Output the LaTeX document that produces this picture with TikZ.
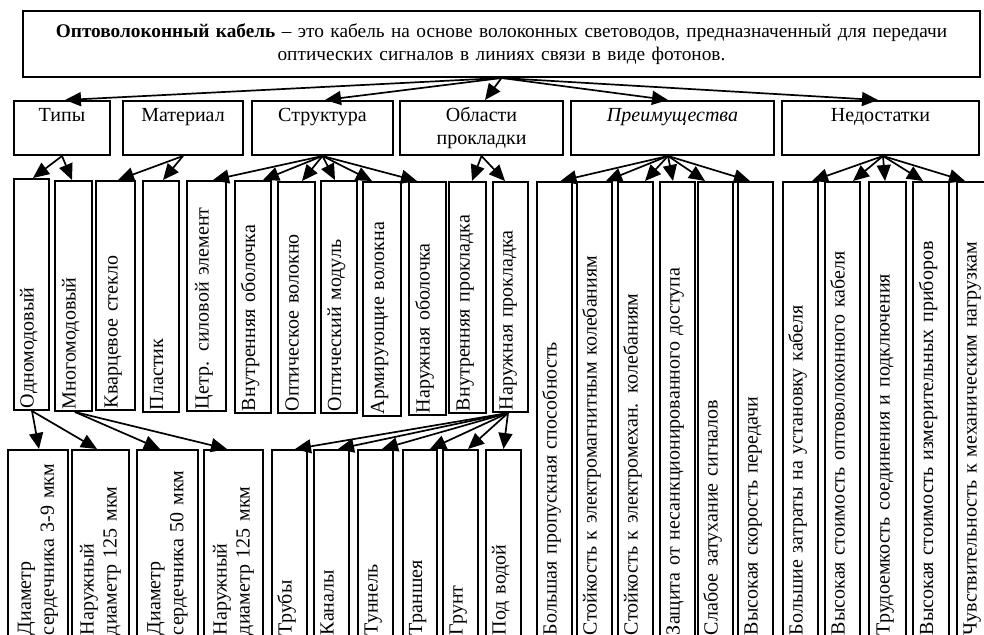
\documentclass[tikz,border=0pt]{standalone}
\usepackage{fontspec}
\setmainfont{Liberation Serif}
\usetikzlibrary{arrows.meta}

\begin{document}
\begin{tikzpicture}[x=1pt,y=-1pt,
  every node/.style={font=\fontsize{20}{23}\selectfont},
  boxline/.style={draw, line width=2pt, inner sep=0pt},
  head/.style={boxline, align=center, minimum height=54pt},
  % vertical boxes: rotated, text runs upwards from the bottom edge
  vert/.style={boxline, rotate=90, inner xsep=2pt, inner ysep=0pt, align=left,
               text height=16pt, text depth=12pt},
  vert2/.style={boxline, rotate=90, inner xsep=2pt, inner ysep=0pt, align=left},
  arr/.style={line width=1.7pt, -{Triangle[length=16pt,width=14pt]}}
]
\useasboundingbox (0,0) rectangle (984,634);

% definition
\node[boxline, minimum width=957pt, minimum height=66pt, text width=950pt, align=center,
      font=\fontsize{19.3}{23}\selectfont]
  (def) at (501.5,44)
  {\textbf{Оптоволоконный кабель} – это кабель на основе волоконных световодов, предназначенный для передачи\\
   оптических сигналов в линиях связи в виде фотонов.};

% categories
\node[head, minimum width=96pt]  (tipy)  at (62,128)    {\strut Типы\\\strut};
\node[head, minimum width=120pt] (mat)   at (183,128)   {\strut Материал\\\strut};
\node[head, minimum width=141pt] (struk) at (322.5,128) {\strut Структура\\\strut};
\node[head, minimum width=163pt] (obl)   at (481.5,128) {\strut Области\\\strut прокладки};
\node[head, minimum width=203pt] (preim) at (672.5,128) {\strut\textit{Преимущества}\\\strut};
\node[head, minimum width=197pt] (nedos) at (880.5,128) {\strut Недостатки\\\strut};

% types, materials, structure, laying
\node[vert, text width=227pt, minimum height=35pt] (odno)   at (31.5,294.5)  {Одномодовый};
\node[vert, text width=226pt, minimum height=37pt] (mnogo)  at (73.5,296)    {Многомодовый};
\node[vert, text width=225pt, minimum height=39pt] (kvarc)  at (115.5,295.5) {Кварцевое стекло};
\node[vert, text width=227pt, minimum height=36pt] (plast)  at (161,296.5)   {Пластик};
\node[vert, text width=226pt, minimum height=39pt] (cetr)   at (206.5,296)   {Цетр. силовой элемент};
\node[vert, text width=228pt, minimum height=36pt] (vnob)   at (253,297)     {Внутренняя оболочка};
\node[vert, text width=227pt, minimum height=37pt] (optvol) at (296.5,297.5) {Оптическое волокно};
\node[vert, text width=228pt, minimum height=36pt] (optmod) at (339,297)     {Оптический модуль};
\node[vert, text width=230pt, minimum height=38pt] (armir)  at (382,299)     {Армирующие волокна};
\node[vert, text width=229pt, minimum height=37pt] (naruob) at (427.5,298.5) {Наружная оболочка};
\node[vert, text width=227pt, minimum height=37pt] (vnpr)   at (467.5,297.5) {Внутренняя прокладка};
\node[vert, text width=226pt, minimum height=35pt] (narpr)  at (510.5,297)   {Наружная прокладка};

% advantages
\node[vert, text width=451pt, minimum height=35pt] (bolsh) at (554.5,409.5) {Большая пропускная способность};
\node[vert, text width=451pt, minimum height=35pt] (stem)  at (594.5,409.5) {Стойкость к электромагнитным колебаниям};
\node[vert, text width=451pt, minimum height=35pt] (stmeh) at (635.5,409.5) {Стойкость к электромехан. колебаниям};
\node[vert, text width=451pt, minimum height=35pt] (zasch) at (677.5,409.5) {Защита от несанкционированного доступа};
\node[vert, text width=451pt, minimum height=35pt] (slab)  at (715.5,409.5) {Слабое затухание сигналов};
\node[vert, text width=451pt, minimum height=35pt] (vysk)  at (755.5,409.5) {Высокая скорость передачи};

% drawbacks
\node[vert, text width=451pt, minimum height=35pt] (zatr)   at (800.5,409.5) {Большие затраты на установку кабеля};
\node[vert, text width=451pt, minimum height=35pt] (vysst)  at (842.5,409.5) {Высокая стоимость оптоволоконного кабеля};
\node[vert, text width=451pt, minimum height=37pt] (trud)   at (887.5,409.5) {Трудоемкость соединения и подключения};
\node[vert, text width=451pt, minimum height=36pt] (vysizm) at (931,409.5)   {Высокая стоимость измерительных приборов};
\node[vert, text width=451pt, minimum height=35pt] (chuv)   at (974.5,409.5) {Чувствительность к механическим нагрузкам};

% fibre parameters
\node[vert2, text width=183pt, minimum height=60pt] (d39) at (38,543.5)    {Диаметр\\сердечника 3-9 мкм};
\node[vert2, text width=183pt, minimum height=57pt] (nd1) at (100.5,543.5) {Наружный\\диаметр 125 мкм};
\node[vert2, text width=183pt, minimum height=61pt] (d50) at (167.5,543.5) {Диаметр\\сердечника 50 мкм};
\node[vert2, text width=183pt, minimum height=59pt] (nd2) at (233.5,543.5) {Наружный\\диаметр 125 мкм};

% outdoor laying
\node[vert, text width=183pt, minimum height=35pt] (trub)  at (289.5,543.5) {Трубы};
\node[vert, text width=183pt, minimum height=35pt] (kan)   at (331.5,543.5) {Каналы};
\node[vert, text width=183pt, minimum height=35pt] (tun)   at (375.5,543.5) {Туннель};
\node[vert, text width=183pt, minimum height=34pt] (tran)  at (420,543.5)   {Траншея};
\node[vert, text width=183pt, minimum height=35pt] (grunt) at (460.5,543.5) {Грунт};
\node[vert, text width=183pt, minimum height=35pt] (podv)  at (503.5,543.5) {Под водой};

% connectors (rotated boxes: .east is the top edge, .west the bottom edge)
\draw[arr] (def.south) -- ([xshift=3pt]tipy.north);
\draw[arr] (def.south) -- ([xshift=2.5pt]struk.north);
\draw[arr] (def.south) -- ([xshift=3.5pt]obl.north);
\draw[arr] (def.south) -- ([xshift=-4.5pt]preim.north);
\draw[arr] (def.south) -- ([xshift=-2.5pt]nedos.north);

\draw[arr] (tipy.south) -- ([xshift=1.5pt]odno.east);
\draw[arr] (tipy.south) -- ([xshift=-1.5pt]mnogo.east);

\draw[arr] (mat.south) -- ([xshift=2.5pt]kvarc.east);
\draw[arr] (mat.south) -- ([xshift=2pt]plast.east);

\draw[arr] (struk.south) -- ([xshift=6.5pt]cetr.east);
\draw[arr] (struk.south) -- ([xshift=10pt]vnob.east);
\draw[arr] (struk.south) -- ([xshift=5.5pt]optvol.east);
\draw[arr] (struk.south) -- ([xshift=-4pt]optmod.east);
\draw[arr] (struk.south) -- ([xshift=-10pt]armir.east);
\draw[arr] (struk.south) -- ([xshift=-10.5pt]naruob.east);

\draw[arr] (obl.south) -- ([xshift=4.5pt]vnpr.east);
\draw[arr] (obl.south) -- ([xshift=-5.5pt]narpr.east);

\draw[arr] ([xshift=-4.5pt]preim.south) -- ([xshift=6pt]bolsh.east);
\draw[arr] ([xshift=-4.5pt]preim.south) -- ([xshift=11.5pt]stem.east);
\draw[arr] ([xshift=-4.5pt]preim.south) -- ([xshift=9.5pt]stmeh.east);
\draw[arr] ([xshift=-4.5pt]preim.south) -- ([xshift=-4.5pt]zasch.east);
\draw[arr] ([xshift=-4.5pt]preim.south) -- ([xshift=-10.5pt]slab.east);
\draw[arr] ([xshift=-4.5pt]preim.south) -- ([xshift=-5.5pt]vysk.east);

\draw[arr] ([xshift=2.5pt]nedos.south) -- ([xshift=11.5pt]zatr.east);
\draw[arr] ([xshift=2.5pt]nedos.south) -- ([xshift=10.5pt]vysst.east);
\draw[arr] ([xshift=2.5pt]nedos.south) -- ([xshift=-2.5pt]trud.east);
\draw[arr] ([xshift=2.5pt]nedos.south) -- ([xshift=-8pt]vysizm.east);
\draw[arr] ([xshift=2.5pt]nedos.south) -- ([xshift=-9.5pt]chuv.east);

\draw[arr] ([xshift=0.5pt]odno.west) -- ([xshift=1pt]d39.east);
\draw[arr] ([xshift=0.5pt]odno.west) -- ([xshift=-3.5pt]nd1.east);
\draw[arr] ([xshift=1.5pt]mnogo.west) -- ([xshift=-7.5pt]d50.east);
\draw[arr] ([xshift=1.5pt]mnogo.west) -- ([xshift=-6.5pt]nd2.east);

\draw[arr] ([xshift=-2.5pt]narpr.west) -- ([xshift=5.5pt]trub.east);
\draw[arr] ([xshift=-2.5pt]narpr.west) -- ([xshift=6.5pt]kan.east);
\draw[arr] ([xshift=-2.5pt]narpr.west) -- ([xshift=6.5pt]tun.east);
\draw[arr] ([xshift=-2.5pt]narpr.west) -- ([xshift=10pt]tran.east);
\draw[arr] ([xshift=-2.5pt]narpr.west) -- ([xshift=7.5pt]grunt.east);
\draw[arr] ([xshift=-2.5pt]narpr.west) -- ([xshift=0pt]podv.east);
\end{tikzpicture}
\end{document}
